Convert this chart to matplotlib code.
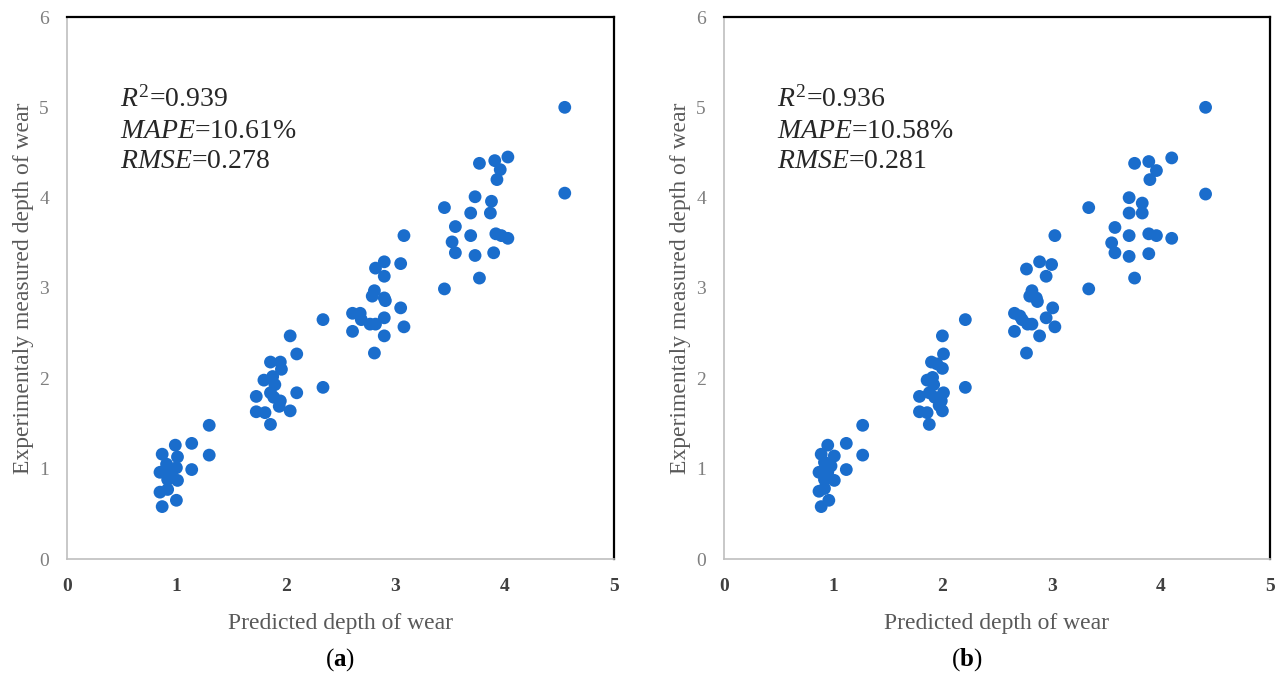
#%% IMPORTS ~~~~~~~~~~~~~~~~~~~~~~~~~~~~~~~~~~~~~~~~~~~~
import matplotlib
matplotlib.use('Agg')
import matplotlib.pyplot as plt

#%% DATA ~~~~~~~~~~~~~~~~~~~~~~~~~~~~~~~~~~~~~~~~~~~~
# panel (a): predicted vs measured depth of wear
a_pred = [1.30, 0.99, 1.14, 0.87, 1.01, 1.30, 0.91, 1.00, 1.14, 0.85, 0.95, 1.01, 0.92, 0.85, 0.92, 1.00, 0.87,
          2.04, 2.10, 1.86, 1.95, 1.96, 1.80, 1.88, 1.90, 2.34, 1.73, 1.86, 1.89, 2.10, 1.95, 1.94, 1.73, 1.81, 2.04, 1.86, 2.34,
          3.08, 2.90, 2.82, 3.05, 2.90, 2.81, 2.79, 2.90, 2.91, 3.05, 2.61, 2.68, 2.69, 2.90, 2.77, 2.82, 3.08, 2.61, 2.90, 2.81,
          4.55, 4.55, 3.77, 3.91, 4.03, 3.96, 3.93, 3.73, 3.88, 3.45, 3.69, 3.87, 3.55, 3.69, 3.92, 3.97, 4.03, 3.52, 3.55, 3.73, 3.90, 3.77, 3.45]
a_meas = [1.48, 1.26, 1.28, 1.16, 1.13, 1.15, 1.05, 1.01, 0.99, 0.96, 0.96, 0.87, 0.88, 0.74, 0.77, 0.65, 0.58,
          2.47, 2.27, 2.18, 2.18, 2.10, 1.98, 2.02, 1.93, 1.90, 1.80, 1.84, 1.79, 1.84, 1.75, 1.69, 1.63, 1.62, 1.64, 1.49, 2.65,
          3.58, 3.29, 3.22, 3.27, 3.13, 2.97, 2.91, 2.89, 2.86, 2.78, 2.72, 2.72, 2.65, 2.67, 2.60, 2.60, 2.57, 2.52, 2.47, 2.28,
          5.00, 4.05, 4.38, 4.41, 4.45, 4.31, 4.20, 4.01, 3.96, 3.89, 3.83, 3.83, 3.68, 3.58, 3.60, 3.58, 3.55, 3.51, 3.39, 3.36, 3.39, 3.11, 2.99]

# panel (b)
b_pred = [1.27, 0.95, 1.12, 0.89, 1.01, 1.27, 0.92, 0.98, 1.12, 0.87, 0.95, 1.01, 0.92, 0.87, 0.92, 0.96, 0.89,
          2.00, 2.01, 1.90, 1.95, 2.00, 1.86, 1.91, 1.92, 2.21, 1.79, 1.88, 1.93, 2.01, 1.99, 1.97, 1.79, 1.86, 2.00, 1.88, 2.21,
          3.03, 2.89, 2.77, 3.00, 2.95, 2.82, 2.80, 2.86, 2.87, 3.01, 2.66, 2.71, 2.73, 2.95, 2.78, 2.82, 3.03, 2.66, 2.89, 2.77,
          4.41, 4.41, 3.76, 3.89, 4.10, 3.96, 3.90, 3.71, 3.83, 3.34, 3.71, 3.83, 3.58, 3.71, 3.89, 3.96, 4.10, 3.55, 3.58, 3.71, 3.89, 3.76, 3.34]
b_meas = [1.48, 1.26, 1.28, 1.16, 1.14, 1.15, 1.07, 1.03, 0.99, 0.96, 0.96, 0.87, 0.88, 0.75, 0.78, 0.65, 0.58,
          2.47, 2.27, 2.18, 2.16, 2.11, 1.98, 2.01, 1.93, 1.90, 1.80, 1.84, 1.79, 1.84, 1.75, 1.70, 1.63, 1.62, 1.64, 1.49, 2.65,
          3.58, 3.29, 3.21, 3.26, 3.13, 2.97, 2.91, 2.89, 2.85, 2.78, 2.72, 2.69, 2.65, 2.67, 2.60, 2.60, 2.57, 2.52, 2.47, 2.28,
          5.00, 4.04, 4.38, 4.40, 4.44, 4.30, 4.20, 4.00, 3.94, 3.89, 3.83, 3.83, 3.67, 3.58, 3.60, 3.58, 3.55, 3.50, 3.39, 3.35, 3.38, 3.11, 2.99]

a_stats = ['0.939', '10.61%', '0.278']
b_stats = ['0.936', '10.58%', '0.281']
panel_tags = ['a', 'b']

x_label = 'Predicted depth of wear'
y_label = 'Experimentaly measured depth of wear'

#%% CONFIGURATION ~~~~~~~~~~~~~~~~~~~~~~~~~~~~~~~~~~~~~~~~~~~~
plt.rcParams['font.family'] = ['Liberation Serif', 'DejaVu Serif']
plt.rcParams['mathtext.fontset'] = 'custom'
plt.rcParams['mathtext.rm'] = 'Liberation Serif'
plt.rcParams['mathtext.it'] = 'Liberation Serif:italic'
plt.rcParams['mathtext.bf'] = 'Liberation Serif:bold'

dot_color = '#1a6dcc'
grey_spine = '#bfbfbf'
tick_grey = '#595959'


def draw_panel(ax, pred, meas, stats):
    ax.scatter(pred, meas, s=85, color=dot_color, edgecolors='none', zorder=3)
    ax.set_xlim(0, 5)
    ax.set_ylim(0, 6)
    ax.set_xticks(range(0, 6))
    ax.set_yticks(range(0, 7))
    ax.tick_params(length=0)
    ax.tick_params(axis='x', labelsize=14, labelcolor='#404040', pad=14)
    ax.tick_params(axis='y', labelsize=14, labelcolor='#7f7f7f', pad=13)
    for lab in ax.get_xticklabels():
        lab.set_fontweight('bold')
    for side in ['left', 'bottom']:
        ax.spines[side].set_color(grey_spine)
        ax.spines[side].set_linewidth(1.2)
    for side in ['top', 'right']:
        ax.spines[side].set_color('black')
        ax.spines[side].set_linewidth(1.6)
    ax.set_xlabel(x_label, fontsize=17, color=tick_grey, labelpad=13)
    ax.set_ylabel(y_label, fontsize=17, color=tick_grey, labelpad=4)
    txt = ('$R^2$=' + stats[0] + '\n'
           + '$MAPE$=' + stats[1] + '\n'
           + '$RMSE$=' + stats[2])
    ax.text(0.097, 0.872, txt, transform=ax.transAxes, fontsize=20,
            color='#262626', va='top', ha='left', linespacing=1.3)


#%% PLOT ~~~~~~~~~~~~~~~~~~~~~~~~~~~~~~~~~~~~~~~~~~~~
fig = plt.figure(figsize=(12.8, 6.79), dpi=100)
ax_a = fig.add_axes([67 / 1280, 1 - 559 / 679, 547 / 1280, 542 / 679])
ax_b = fig.add_axes([724 / 1280, 1 - 559 / 679, 546 / 1280, 542 / 679])

draw_panel(ax_a, a_pred, a_meas, a_stats)
draw_panel(ax_b, b_pred, b_meas, b_stats)

fig.text(340 / 1280, 1 - 660 / 679, '($\\mathbf{' + panel_tags[0] + '}$)',
         fontsize=18, ha='center', va='center')
fig.text(967 / 1280, 1 - 660 / 679, '($\\mathbf{' + panel_tags[1] + '}$)',
         fontsize=18, ha='center', va='center')

fig.savefig('out.png', dpi=100)
